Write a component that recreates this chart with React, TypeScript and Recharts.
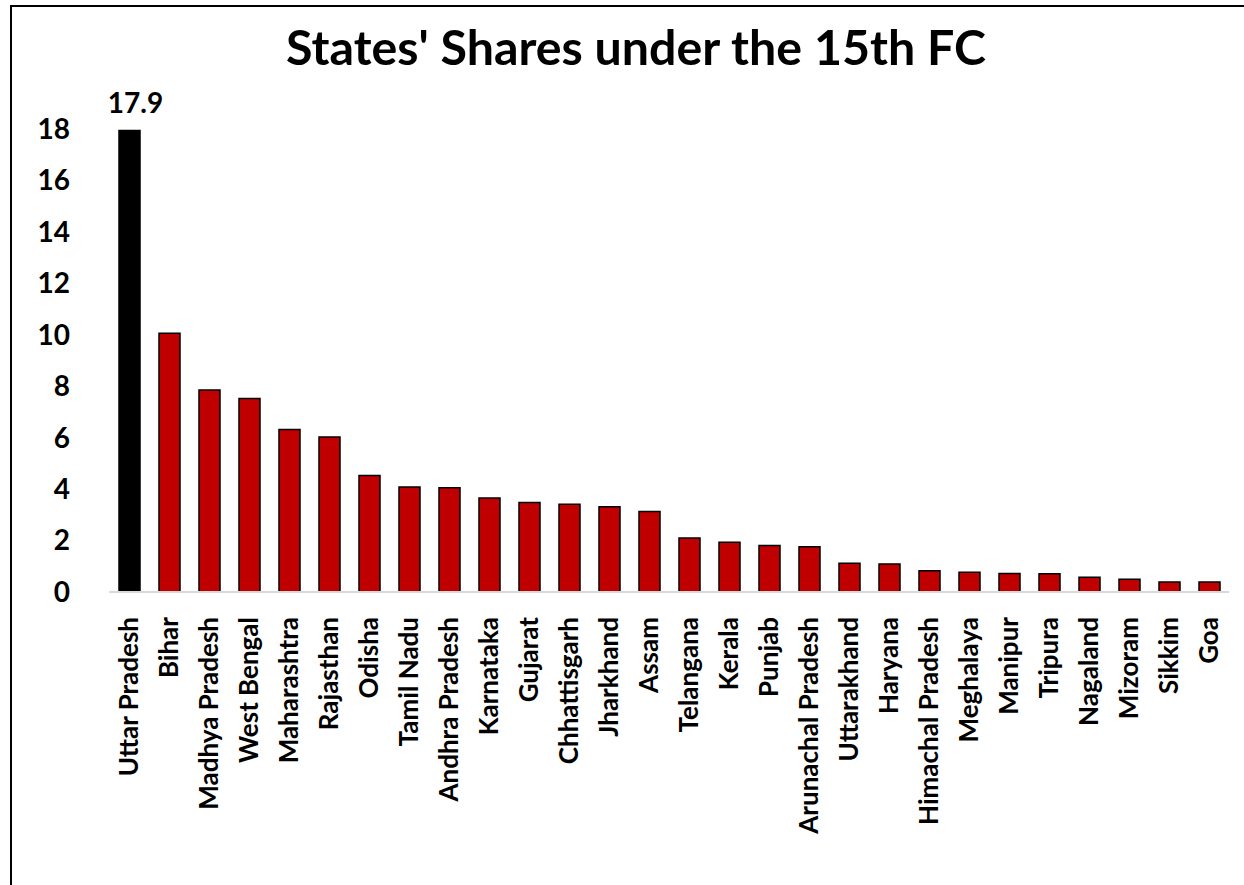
import { BarChart, Bar, XAxis, YAxis, Cell, LabelList } from "recharts";

// States' shares in the divisible pool (per cent), 15th Finance Commission
const STATES = [
  "Uttar Pradesh", "Bihar", "Madhya Pradesh", "West Bengal", "Maharashtra",
  "Rajasthan", "Odisha", "Tamil Nadu", "Andhra Pradesh", "Karnataka",
  "Gujarat", "Chhattisgarh", "Jharkhand", "Assam", "Telangana", "Kerala",
  "Punjab", "Arunachal Pradesh", "Uttarakhand", "Haryana", "Himachal Pradesh",
  "Meghalaya", "Manipur", "Tripura", "Nagaland", "Mizoram", "Sikkim", "Goa",
];
const SHARES = [
  17.94, 10.06, 7.85, 7.52, 6.32, 6.03, 4.53, 4.08, 4.05, 3.65, 3.48, 3.41,
  3.31, 3.13, 2.10, 1.93, 1.81, 1.76, 1.12, 1.09, 0.83, 0.77, 0.72, 0.71,
  0.57, 0.50, 0.39, 0.39,
];
const Y_TICKS = [0, 2, 4, 6, 8, 10, 12, 14, 16, 18];

const TITLE = "States' Shares under the 15th FC";
const FONT = "Lato, 'Open Sans', sans-serif";
const RED = "#C00000";

const data = STATES.map((state, i) => ({ state, share: SHARES[i] }));

// rotated category labels, reading bottom-to-top
function StateTick({ x, y, payload }: any) {
  return (
    <text
      transform={`translate(${x},${y + 23}) rotate(-90)`}
      textAnchor="end"
      dy="0.36em"
      fontFamily={FONT}
      fontWeight={700}
      fontSize={26}
      fill="#000"
    >
      {payload.value}
    </text>
  );
}

// only the leading bar gets its value printed
function TopLabel(props: any) {
  const { x, y, width, value, index } = props;
  if (index !== 0) return null;
  return (
    <text
      x={x + width / 2 + 6}
      y={y - 18}
      textAnchor="middle"
      fontFamily={FONT}
      fontWeight={700}
      fontSize={28}
      fill="#000"
    >
      {Number(value).toFixed(1)}
    </text>
  );
}

export default function App() {
  return (
    <div
      style={{
        position: "absolute",
        left: 0,
        top: 0,
        width: 1244,
        height: 885,
        background: "#fff",
        overflow: "hidden",
      }}
    >
      <BarChart
        width={1244}
        height={885}
        data={data}
        margin={{ top: 129, right: 15, bottom: 43, left: 49 }}
        barCategoryGap={18}
      >
        <XAxis
          dataKey="state"
          interval={0}
          height={250}
          tickLine={false}
          tickSize={0}
          axisLine={{ stroke: "#d9d9d9", strokeWidth: 2 }}
          tick={<StateTick />}
        />
        <YAxis
          width={60}
          domain={[0, 18]}
          ticks={Y_TICKS}
          interval={0}
          axisLine={false}
          tickLine={false}
          tickSize={0}
          tickMargin={39}
          tick={{ fontFamily: FONT, fontWeight: 700, fontSize: 28, fill: "#000" }}
        />
        <Bar
          dataKey="share"
          barSize={21}
          stroke="#000"
          strokeWidth={1.5}
          isAnimationActive={false}
        >
          {data.map((d, i) => (
            <Cell key={d.state} fill={i === 0 ? "#000" : RED} />
          ))}
          <LabelList dataKey="share" content={<TopLabel />} />
        </Bar>
      </BarChart>

      {/* title and the frame's top/left edges */}
      <svg
        width={1244}
        height={885}
        style={{ position: "absolute", left: 0, top: 0, pointerEvents: "none" }}
      >
        <path d="M11,885 L11,6 L1244,6" fill="none" stroke="#000" strokeWidth={2} />
        <text
          x={636}
          y={65}
          textAnchor="middle"
          textLength={700}
          lengthAdjust="spacingAndGlyphs"
          fontFamily={FONT}
          fontWeight={700}
          fontSize={48}
          fill="#000"
        >
          {TITLE}
        </text>
      </svg>
    </div>
  );
}
